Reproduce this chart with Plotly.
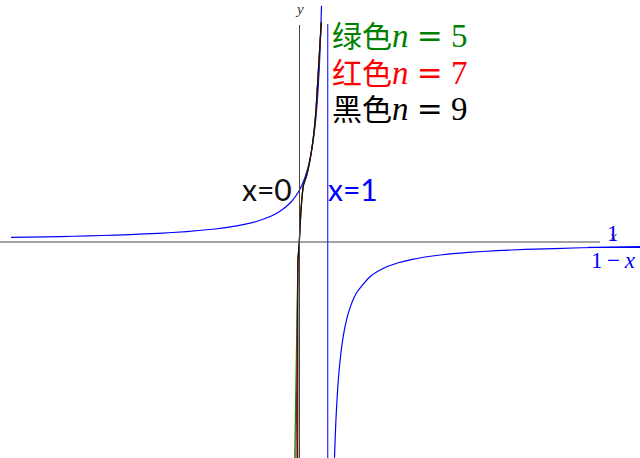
import plotly.graph_objects as go

# ---- data ----
# blue curve y = 1/(1-x), left branch
blue_left_x = [-10.23, -9, -8, -7, -6, -5, -4, -3, -2.5, -2, -1.5, -1, -0.75, -0.5, -0.3, -0.15,
               0, 0.1, 0.2, 0.3, 0.4, 0.5, 0.6, 0.7, 0.75, 0.78]
blue_left_y = [0.089, 0.1, 0.111, 0.125, 0.143, 0.167, 0.2, 0.25, 0.286, 0.333, 0.4, 0.5, 0.571,
               0.667, 0.769, 0.87, 1.0, 1.111, 1.25, 1.429, 1.667, 2.0, 2.5, 3.333, 4.0, 4.545]
# blue curve, right branch
blue_right_x = [1.241, 1.27, 1.3, 1.35, 1.4, 1.5, 1.6, 1.75, 2, 2.5, 3, 3.5, 4, 5, 6, 7, 8, 10, 12.1]
blue_right_y = [-4.15, -3.7, -3.333, -2.857, -2.5, -2.0, -1.667, -1.333, -1.0, -0.667, -0.5, -0.4,
                -0.333, -0.25, -0.2, -0.167, -0.143, -0.111, -0.09]

# Taylor-type curves (shared upper part, separate lower tails)
upper_x = [0.78, 0.762, 0.585, 0.489, 0.372, 0.241, 0.142, 0.053, -0.007, -0.053]
upper_y = [4.23, 4.14, 2.54, 2.0, 1.58, 1.256, 1.10, 0.615, 0.0, -0.346]
green_tail_x = [-0.113, -0.170]
red_tail_x = [-0.089, -0.124]
black_tail_x = [-0.058, -0.064]
tail_y = [-2.27, -4.16]

legend_labels = ["绿色", "红色", "黑色"]
legend_n = [5, 7, 9]
legend_colors = ["#008000", "#ff0000", "#000000"]

asymptote_x = 1

# ---- pixel helpers for layout (positions only; screen pixels) ----
W, H = 640, 458
X0PX, Y0PX = 299.5, 242.0
SX, SY = 28.2, 52.0
def px2x(p):
    return (p - X0PX) / SX
def py2y(p):
    return (Y0PX - p) / SY

xr = [px2x(0), px2x(W)]
yr = [py2y(H), py2y(0)]

fig = go.Figure()

for xs, ys in [(blue_left_x, blue_left_y), (blue_right_x, blue_right_y)]:
    fig.add_trace(go.Scatter(x=xs, y=ys, mode="lines", line=dict(color="#0000ff", width=1.2,
                                                                  shape="spline", smoothing=0.6),
                             hoverinfo="skip", showlegend=False))

for tail, col in [(green_tail_x, "#00a000"), (red_tail_x, "#cc0000"), (black_tail_x, "#111111")]:
    fig.add_trace(go.Scatter(x=upper_x + tail, y=upper_y + tail_y, mode="lines",
                             line=dict(color=col, width=1.2, shape="spline", smoothing=0.5),
                             hoverinfo="skip", showlegend=False))

axis_col = "#444444"
shapes = [
    dict(type="line", xref="x", yref="y", x0=px2x(0), x1=px2x(600), y0=0, y1=0,
         line=dict(color=axis_col, width=1)),
    dict(type="line", xref="x", yref="y", x0=0, x1=0, y0=py2y(H), y1=py2y(25),
         line=dict(color=axis_col, width=1)),
    dict(type="line", xref="x", yref="y", x0=asymptote_x, x1=asymptote_x, y0=py2y(H), y1=py2y(24),
         line=dict(color="#3a3aff", width=1.3)),
    dict(type="line", xref="x", yref="y", x0=px2x(588), x1=px2x(640), y0=py2y(247.3), y1=py2y(247.3),
         line=dict(color="#0000ff", width=1.3)),
]

serif = "Liberation Serif"
cjk = "Noto Sans CJK SC"
ann = []
for i, (lab, n, col) in enumerate(zip(legend_labels, legend_n, legend_colors)):
    txt = (f"{lab}<span style=\"font-family:{serif};font-size:33px\"><i>n</i> </span>"
           f"<span style=\"font-family:DejaVu Serif;font-size:31px\">=</span>"
           f"<span style=\"font-family:{serif};font-size:33px\"> {n}</span>")
    ann.append(dict(
        x=px2x(330), y=py2y(34 + 36.5 * i), xref="x", yref="y", xanchor="left", yanchor="middle",
        text=txt, showarrow=False, font=dict(family=cjk, size=30, color=col)))

ann += [
    dict(x=px2x(294), y=py2y(189), xref="x", yref="y", xanchor="right", yanchor="middle",
         text="x=0", showarrow=False, font=dict(family="Lato", size=30, color="#111111")),
    dict(x=px2x(326), y=py2y(189), xref="x", yref="y", xanchor="left", yanchor="middle",
         text="x=1", showarrow=False, font=dict(family="Lato", size=30, color="#0000ff")),
    dict(x=px2x(299), y=py2y(9), xref="x", yref="y", xanchor="center", yanchor="middle",
         text="<i>y</i>", showarrow=False, font=dict(family=serif, size=15, color="#333333")),
    dict(x=px2x(613), y=py2y(236), xref="x", yref="y", xanchor="center", yanchor="middle",
         text="<i>x</i>", showarrow=False, font=dict(family=serif, size=15, color="#444444")),
    dict(x=px2x(613), y=py2y(233), xref="x", yref="y", xanchor="center", yanchor="middle",
         text="1", showarrow=False, font=dict(family=serif, size=23, color="#0000ff")),
    dict(x=px2x(638), y=py2y(260), xref="x", yref="y", xanchor="right", yanchor="middle",
         text="1\u2009\u2212\u2009<i>x</i>", showarrow=False, font=dict(family=serif, size=23, color="#0000ff")),
]

fig.update_layout(
    width=W, height=H, margin=dict(l=0, r=0, t=0, b=0),
    paper_bgcolor="white", plot_bgcolor="white",
    xaxis=dict(range=xr, visible=False, fixedrange=True),
    yaxis=dict(range=yr, visible=False, fixedrange=True),
    shapes=shapes, annotations=ann, showlegend=False,
)

fig.write_html("out.html", config={"displayModeBar": False},
               post_script="document.body.style.margin='0';document.body.style.overflow='hidden';")
